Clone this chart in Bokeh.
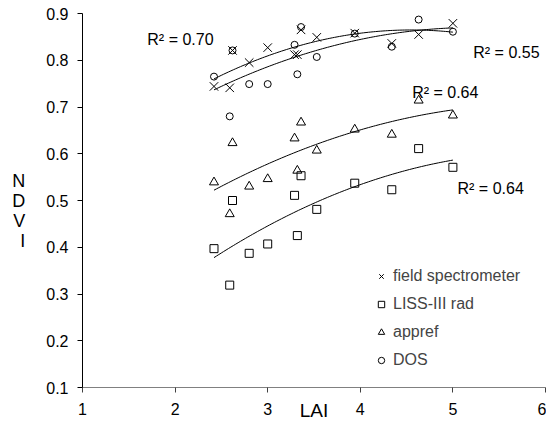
import numpy as np
from bokeh.plotting import figure
from bokeh.models import Label, Legend, LegendItem, FixedTicker, Range1d
from bokeh.embed import file_html
from bokeh.resources import INLINE

# ---- data ----
lai = [2.42, 2.59, 2.62, 2.80, 3.00, 3.29, 3.32, 3.36, 3.53, 3.94, 4.34, 4.63, 5.00]
field_spectrometer = [0.744, 0.741, 0.821, 0.795, 0.827, 0.812, 0.812, 0.865, 0.849, 0.858, 0.836, 0.855, 0.879]
liss_rad = [0.397, 0.319, 0.500, 0.387, 0.407, 0.511, 0.425, 0.553, 0.481, 0.537, 0.523, 0.611, 0.571]
appref = [0.539, 0.471, 0.623, 0.530, 0.546, 0.633, 0.564, 0.667, 0.607, 0.652, 0.641, 0.714, 0.682]
dos = [0.765, 0.680, 0.821, 0.749, 0.749, 0.833, 0.770, 0.871, 0.807, 0.857, 0.829, 0.887, 0.861]

series_names = ["field spectrometer", "LISS-III rad", "appref", "DOS"]
r2_labels = ["R\u00b2 = 0.70", "R\u00b2 = 0.55", "R\u00b2 = 0.64", "R\u00b2 = 0.64"]
x_ticks = [1, 2, 3, 4, 5, 6]
y_ticks = [0.1, 0.2, 0.3, 0.4, 0.5, 0.6, 0.7, 0.8, 0.9]

FONT = "Liberation Sans"

p = figure(width=546, height=425, output_backend="svg", toolbar_location=None,
           x_range=Range1d(1, 6), y_range=Range1d(0.1, 0.9),
           min_border_left=82, min_border_right=1, min_border_top=13, min_border_bottom=38)
p.outline_line_color = None
p.xgrid.visible = False
p.ygrid.visible = False
p.background_fill_color = "white"
p.border_fill_color = "white"

# axes
p.xaxis.ticker = FixedTicker(ticks=x_ticks)
p.yaxis.ticker = FixedTicker(ticks=y_ticks)
p.yaxis.major_label_overrides = {t: f"{t:.1f}" for t in y_ticks}
for ax in (p.xaxis[0], p.yaxis[0]):
    ax.major_tick_in = 0
    ax.major_tick_out = 5
    ax.minor_tick_line_color = None
    ax.major_label_text_font = FONT
    ax.major_label_text_font_size = "16px"
    ax.major_label_text_color = "black"
    ax.major_label_standoff = 9
    ax.axis_label_text_font = FONT
    ax.axis_label_text_font_style = "normal"
    ax.axis_label_text_color = "black"
p.xaxis.axis_line_color = "#808080"
p.xaxis.major_tick_line_color = "#404040"
p.yaxis.axis_line_color = "black"
p.yaxis.major_tick_line_color = "black"
p.xaxis.major_label_standoff = 10

p.xaxis.axis_label = "LAI"
p.xaxis.axis_label_text_font_size = "19px"
p.xaxis.axis_label_standoff = -18

p.yaxis.axis_label = "\nN\nD\nV\nI"
p.yaxis.axis_label_text_font_size = "18px"
p.yaxis.axis_label_orientation = "horizontal"
p.yaxis.axis_label_text_line_height = 1.0
p.yaxis.axis_label_standoff = 18

# trend lines (2nd-order polynomial fits of each series)
xs_fit = np.linspace(min(lai), max(lai), 100)
for ys in (field_spectrometer, liss_rad, appref, dos):
    c = np.polyfit(lai, ys, 2)
    p.line(xs_fit, np.polyval(c, xs_fit), line_color="black", line_width=1)

# points
r_field = p.scatter(lai, field_spectrometer, marker="x", size=12, line_color="black", line_width=1)
r_liss = p.scatter(lai, liss_rad, marker="square", size=8, line_color="black", fill_color=None, line_width=1)
r_app = p.scatter(lai, appref, marker="triangle", size=9, line_color="black", fill_color=None, line_width=1)
r_dos = p.scatter(lai, dos, marker="circle", size=7, line_color="black", fill_color=None, line_width=1)

legend = Legend(items=[LegendItem(label=series_names[0], renderers=[r_field]),
                       LegendItem(label=series_names[1], renderers=[r_liss]),
                       LegendItem(label=series_names[2], renderers=[r_app]),
                       LegendItem(label=series_names[3], renderers=[r_dos])],
                location=(291, 17), padding=0, margin=0, spacing=8,
                glyph_width=16, glyph_height=20, label_standoff=4,
                label_text_font=FONT, label_text_font_size="16px",
                border_line_color=None, background_fill_alpha=0)
p.add_layout(legend, "center")

# R^2 annotations
r2_pos = [(1.70, 0.844), (5.22, 0.817), (4.56, 0.731), (5.05, 0.526)]
for txt, (lx, ly) in zip(r2_labels, r2_pos):
    p.add_layout(Label(x=lx, y=ly, text=txt, text_font=FONT, text_font_size="16px",
                       text_baseline="middle", text_align="left", text_color="black"))

open("out.html", "w").write(file_html(p, INLINE))
